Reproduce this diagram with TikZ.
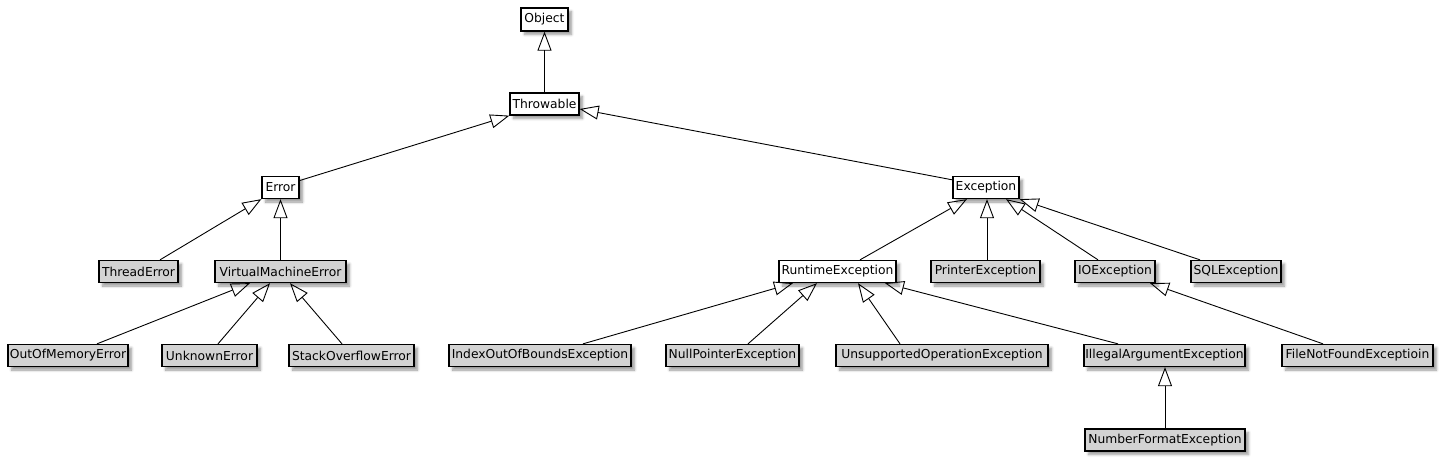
\documentclass[tikz,border=0pt]{standalone}
\usepackage{fontspec}
\setmainfont{DejaVu Sans}
\usetikzlibrary{arrows.meta,shadows.blur,calc}
\definecolor{boxgray}{RGB}{211,211,211}
\tikzset{
  cls/.style={draw=black, line width=1.3pt, fill=white, minimum height=22pt,
    inner xsep=1pt, inner ysep=0pt, font=\fontsize{12.3}{14}\selectfont,
    blur shadow={shadow xshift=3.5pt, shadow yshift=-3.5pt, shadow blur radius=2.5pt,
      shadow blur steps=6, shadow opacity=40}},
  gcls/.style={cls, fill=boxgray},
  ext/.style={line width=0.9pt, -{Triangle[open, length=19pt, width=14pt, line width=0.9pt]}}
}
\begin{document}
\begin{tikzpicture}[x=1pt,y=-1pt]
\useasboundingbox (0,0) rectangle (1444,461);
% row 0-1
\node[cls, minimum width=47pt, minimum height=23pt] (obj) at (544.5,19.5) {Object};
\node[cls, minimum width=69pt] (thr) at (544.5,104) {Throwable};
% row 2
\node[cls, minimum width=37pt] (err) at (280.5,187.5) {Error};
\node[cls, minimum width=66pt] (exc) at (986,187.5) {Exception};
% row 3
\node[gcls, minimum width=79pt] (thd) at (138.5,271.5) {ThreadError};
\node[gcls, minimum width=131pt] (vme) at (280.5,271.5) {VirtualMachineError};
\node[cls, minimum width=117pt] (rte) at (837.5,271.5) {RuntimeException};
\node[gcls, minimum width=109pt] (pre) at (985.5,271.5) {PrinterException};
\node[gcls, minimum width=80pt] (ioe) at (1115,271.5) {IOException};
\node[gcls, minimum width=90pt] (sql) at (1236,271.5) {SQLException};
% row 4
\node[gcls, minimum width=120pt] (oom) at (68,355.5) {OutOfMemoryError};
\node[gcls, minimum width=95pt] (unk) at (209.5,355.5) {UnknownError};
\node[gcls, minimum width=125pt] (soe) at (351.5,355.5) {StackOverflowError};
\node[gcls, minimum width=182pt] (iob) at (540,355.5) {IndexOutOfBoundsException};
\node[gcls, minimum width=133pt] (npe) at (732.5,355.5) {NullPointerException};
\node[gcls, minimum width=212pt] (uoe) at (942,355.5) {UnsupportedOperationException};
\node[gcls, minimum width=161pt] (iae) at (1164.5,355.5) {IllegalArgumentException};
\node[gcls, minimum width=151pt] (fnf) at (1357.5,355.5) {FileNotFoundExceptioin};
% row 5
\node[gcls, minimum width=160pt] (nfe) at (1165,440) {NumberFormatException};
% connectors
\draw[ext] (thr.north) -- (obj.south);
\draw[ext] ($(err.north east)+(-1,5)$) -- (thr.south west);
\draw[ext] ($(exc.north west)+(0,4)$) -- ($(thr.east)+(0,5)$);
\draw[ext] ($(thd.north)+(21.5,0)$) -- (err.south west);
\draw[ext] (vme.north) -- (err.south);
\draw[ext] ($(oom.north)+(29,0)$) -- ($(vme.south)+(-30.5,0)$);
\draw[ext] ($(unk.north)+(8.5,0)$) -- ($(vme.south)+(-10.5,0)$);
\draw[ext] ($(soe.north)+(-9.5,0)$) -- ($(vme.south)+(9.5,0)$);
\draw[ext] ($(rte.north)+(22.5,0)$) -- ($(exc.south)+(-19,0)$);
\draw[ext] ($(pre.north)+(1.5,0)$) -- ($(exc.south)+(1,0)$);
\draw[ext] ($(ioe.north)+(-17,0)$) -- ($(exc.south)+(20,0)$);
\draw[ext] ($(sql.north)+(-36,0)$) -- (exc.south east);
\draw[ext] ($(iob.north)+(43,0)$) -- ($(rte.south)+(-44.5,0)$);
\draw[ext] ($(npe.north)+(15.5,0)$) -- ($(rte.south)+(-20.5,0)$);
\draw[ext] ($(uoe.north)+(-42,0)$) -- ($(rte.south)+(20.5,0)$);
\draw[ext] ($(iae.north)+(-46.5,0)$) -- ($(rte.south)+(47.5,0)$);
\draw[ext] ($(fnf.north)+(-34.5,0)$) -- ($(ioe.south)+(35,0)$);
\draw[ext] (nfe.north) -- (nfe.north |- iae.south);
\end{tikzpicture}
\end{document}
